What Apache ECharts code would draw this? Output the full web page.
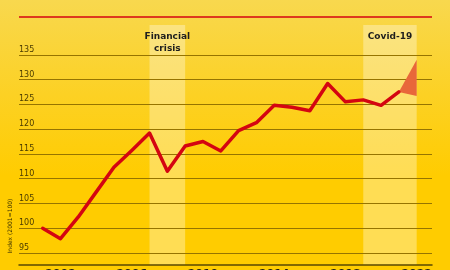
<!DOCTYPE html>
<html><head><meta charset="utf-8">
<script src="https://cdn.jsdelivr.net/npm/echarts@6/dist/echarts.min.js"></script>
<style>
html,body{margin:0;padding:0}
#c{width:450px;height:270px;background:linear-gradient(to bottom,#F8D84E 0%,#FCD124 35%,#FFCC00 65%,#FFCC00 100%)}
</style>
</head><body><div id="c"></div>
<script>
const years = [2001,2002,2003,2004,2005,2006,2007,2008,2009,2010,2011,2012,2013,2014,2015,2016,2017,2018,2019,2020,2021];
const values = [100,97.9,102.3,107.3,112.3,115.7,119.2,111.5,116.6,117.5,115.6,119.7,121.3,124.8,124.4,123.7,129.2,125.5,125.9,124.8,127.5];
const fanYears = [2021, 2022];
const fanHigh = [127.5, 134];
const fanLow = [127.5, 126.7];
const yTicks = [95,100,105,110,115,120,125,130,135];
const xTickLabels = [2002,2006,2010,2014,2018,2022];
const bandNames = ['Financial\ncrisis', 'Covid-19'];
const bandFrom = [2007, 2019];
const bandTo = [2009, 2022];

const chart = echarts.init(document.getElementById('c'), null, {renderer:'canvas'});
chart.setOption({
  animation: false,
  backgroundColor: 'transparent',
  grid: {left: 19, right: 18, top: 25, bottom: 5, containLabel: false, outerBoundsMode: 'none'},
  xAxis: {
    type: 'value', min: 1999.67, max: 2022.86,
    axisLine: {show: true, lineStyle: {color: '#5a4800', width: 1.5}},
    axisTick: {show: false},
    splitLine: {show: false},
    axisLabel: {customValues: xTickLabels, formatter: v => String(v), fontFamily: 'DejaVu Sans', fontWeight: 'bold', fontSize: 11, color: '#1a1a1a', margin: 4}
  },
  yAxis: {
    type: 'value', min: 92.6, max: 141,
    axisLine: {show: false}, axisTick: {show: false}, axisLabel: {show: false}, splitLine: {show: false}
  },
  graphic: [
    {type: 'line', shape: {x1: 19, y1: 17, x2: 432, y2: 17}, style: {stroke: '#D40511', lineWidth: 1.5}, silent: true},
    {type: 'text', x: 10, y: 226, rotation: Math.PI / 2, silent: true,
     style: {text: 'Index (2001=100)', fontSize: 6, fontFamily: 'DejaVu Sans', fill: '#3a3000', align: 'center', verticalAlign: 'middle'}}
  ],
  series: [
    {
      type: 'custom', z: 2, silent: true,
      data: [[fanYears[0], fanLow[0]]],
      renderItem: (params, api) => {
        const upper = fanYears.map((y, i) => api.coord([y, fanHigh[i]]));
        const lower = fanYears.map((y, i) => api.coord([y, fanLow[i]])).reverse();
        return {type: 'polygon', shape: {points: upper.concat(lower)}, style: {fill: '#E8673A'}};
      }
    },
    {
      type: 'line', z: 3, silent: true,
      data: years.map((y, i) => [y, values[i]]),
      showSymbol: false, symbol: 'none',
      lineStyle: {color: '#D40511', width: 3.5, join: 'round', cap: 'round'},
      markArea: {
        silent: true, z: 0,
        itemStyle: {color: 'rgba(255,255,255,0.33)'},
        label: {show: true, position: 'insideTop', distance: 5, color: '#1e1e1e', fontFamily: 'DejaVu Sans', fontWeight: 'bold', fontSize: 9, lineHeight: 12.5},
        data: bandNames.map((n, i) => [{name: n, xAxis: bandFrom[i]}, {xAxis: bandTo[i]}])
      },
      markLine: {
        silent: true, z: 1, symbol: 'none',
        lineStyle: {color: '#967400', width: 1, type: 'solid'},
        label: {show: true, position: 'insideStartTop', formatter: p => String(p.value), color: '#4a3b00', fontFamily: 'DejaVu Sans', fontSize: 8, distance: [0, 1]},
        emphasis: {disabled: true},
        data: yTicks.map(v => ({yAxis: v}))
      }
    }
  ]
});
</script>
</body></html>
